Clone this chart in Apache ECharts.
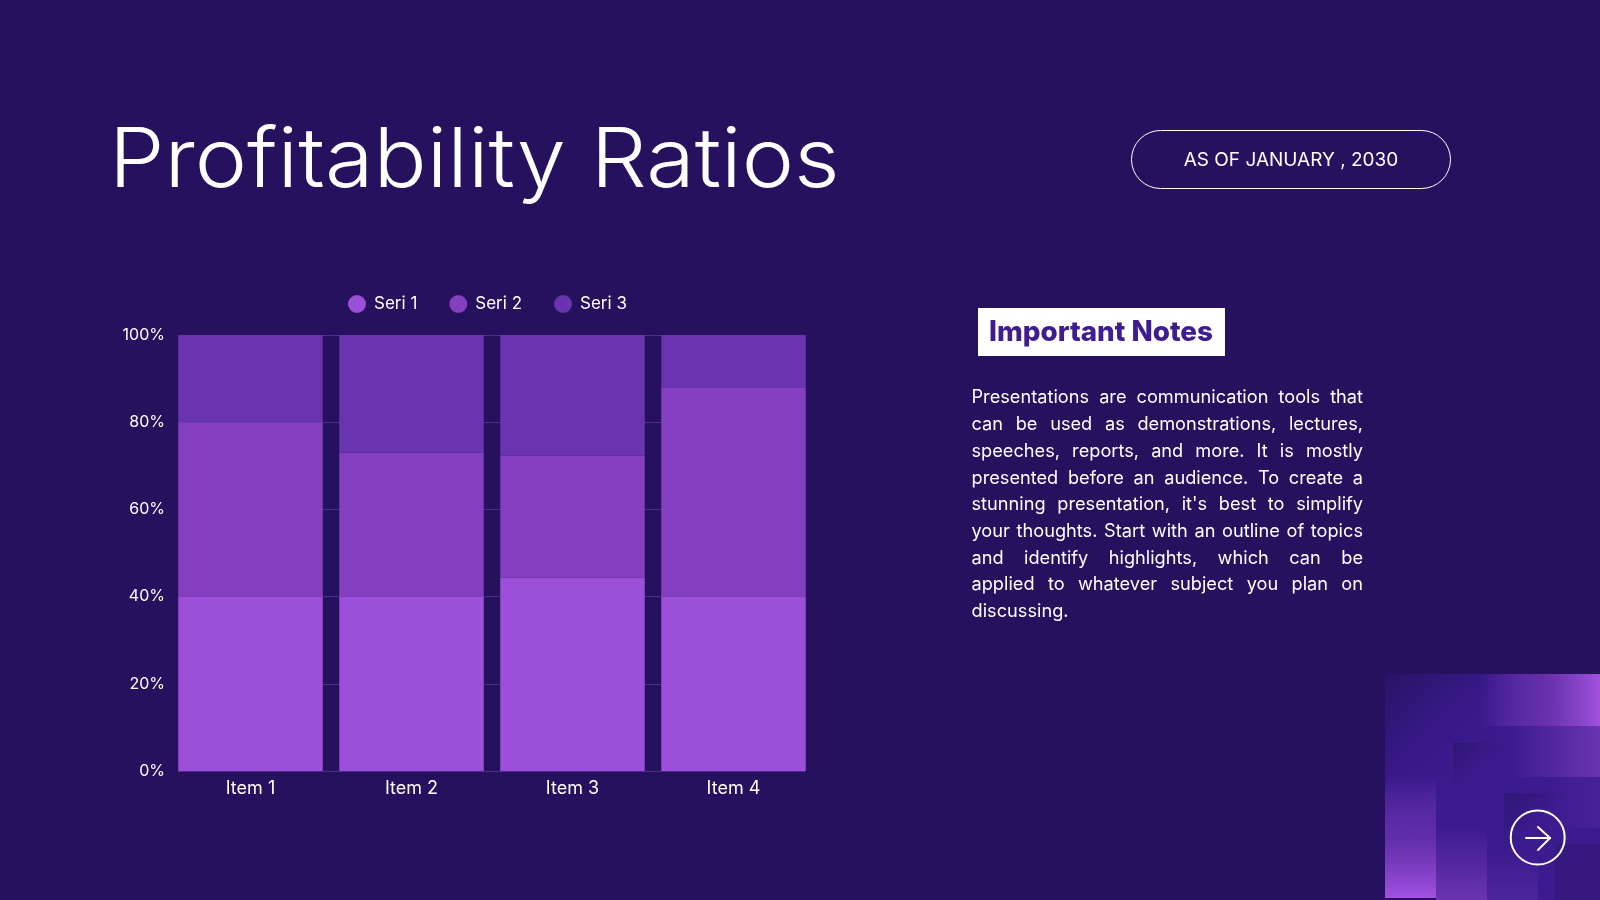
<!DOCTYPE html>
<html><head><meta charset="utf-8">
<style>html,body{margin:0;padding:0;background:#26115f}#c{width:1600px;height:900px}</style>
<script src="https://cdn.jsdelivr.net/npm/echarts@6/dist/echarts.min.js"></script>
</head><body><div id="c"></div>
<script>
const categories = ['Item 1','Item 2','Item 3','Item 4'];
const seri1 = [40,40,44.3,40];
const seri2 = [40,33,28,48];
const seri3 = [20,27,27.7,12];
const titleText = 'Profitability Ratios';
const pillText = 'AS OF JANUARY , 2030';
const notesTitle = 'Important Notes';
const notesLines = [
 'Presentations are communication tools that',
 'can be used as demonstrations, lectures,',
 'speeches, reports, and more. It is mostly',
 'presented before an audience. To create a',
 'stunning presentation, it\'s best to simplify',
 'your thoughts. Start with an outline of topics',
 'and identify highlights, which can be',
 'applied to whatever subject you plan on',
 'discussing.'
];
const F = 'Inter';
const bodyFont = '400 18.2px '+F;
const ctx = document.createElement('canvas').getContext('2d');
ctx.font = bodyFont;
const L = 971.5, R = 1363;
const g = [];
function grad(x,y,w,h,dir,stops){
  g.push({type:'rect',shape:{x,y,width:w,height:h},silent:true,style:{fill:new echarts.graphic.LinearGradient(dir[0],dir[1],dir[2],dir[3],stops.map(s=>({offset:s[0],color:s[1]})))}});
}
// base frame, fading from dark at the corner
grad(1385,674,215,224,[0,0,.75,.75],[[0,'#2a1366'],[.35,'#39198a'],[.6,'#3c1b8e'],[1,'#3c1b8e']]);
grad(1436,898,164,2,[0,0,1,0],[[0,'#3c1b8e'],[1,'#3c1b8e']]);
// darker nested squares
grad(1453,743,147,157,[0,0,.8,.8],[[0,'rgba(38,17,95,.55)'],[.22,'rgba(38,17,95,0)'],[1,'rgba(38,17,95,0)']]);
grad(1504,793,96,107,[0,0,.8,.8],[[0,'rgba(38,17,95,.5)'],[.4,'rgba(38,17,95,0)'],[1,'rgba(38,17,95,0)']]);
// bright ends of each frame's strips
grad(1385,674,215,52,[0,0,1,0],[[.45,'rgba(160,82,224,0)'],[.75,'rgba(130,62,190,.6)'],[1,'#a152e0']]);
grad(1385,726,51,172,[0,0,0,1],[[.3,'rgba(160,82,224,0)'],[.65,'rgba(120,58,190,.6)'],[1,'#a152e0']]);
grad(1436,726,164,51,[0,0,1,0],[[.45,'rgba(106,52,176,0)'],[1,'#6a34b0']]);
grad(1436,777,51,123,[0,0,0,1],[[.4,'rgba(106,52,176,0)'],[1,'#6a34b0']]);
grad(1487,777,113,51,[0,0,1,0],[[.5,'rgba(80,40,160,0)'],[1,'rgba(80,40,160,.5)']]);
grad(1487,828,51,72,[0,0,0,1],[[.3,'rgba(80,40,160,0)'],[1,'rgba(80,40,160,.7)']]);
g.push({type:'rect',shape:{x:1555,y:844,width:45,height:56},silent:true,style:{fill:'#36187f'}});
// arrow button
g.push({type:'circle',shape:{cx:1537.7,cy:837.5,r:27},silent:true,style:{fill:'none',stroke:'#fff',lineWidth:2}});
g.push({type:'polyline',shape:{points:[[1526,838],[1550,838]]},silent:true,style:{fill:'none',stroke:'#fff',lineWidth:2,lineCap:'round'}});
g.push({type:'polyline',shape:{points:[[1538,827],[1550,838],[1538,850]]},silent:true,style:{fill:'none',stroke:'#fff',lineWidth:2,lineCap:'round'}});
// title
g.push({type:'text',x:109,y:162,scaleX:1.077,silent:true,style:{text:titleText,font:'300 82px Inter',fill:'#fff',verticalAlign:'middle'}});
// pill
g.push({type:'rect',shape:{x:1131.5,y:130.5,width:319,height:58,r:29},silent:true,style:{fill:'none',stroke:'#fff',lineWidth:1}});
g.push({type:'text',x:1291,y:160,silent:true,style:{text:pillText,font:'400 19px '+F,fill:'#fff',align:'center',verticalAlign:'middle'}});
// notes box
g.push({type:'rect',shape:{x:978,y:308,width:247,height:48},silent:true,style:{fill:'#fff'}});
g.push({type:'text',x:1101,y:332.5,silent:true,style:{text:notesTitle,font:'800 27.8px '+F,fill:'#3f1c90',align:'center',verticalAlign:'middle'}});
// justified paragraph, word by word from measured widths
notesLines.forEach((line,i)=>{
  const y = 398 + i*26.7;
  const words = line.split(' ');
  const last = i===notesLines.length-1;
  const total = words.reduce((a,w)=>a+ctx.measureText(w).width,0);
  const gap = last ? ctx.measureText(' ').width : (R-L-total)/(words.length-1);
  let x = L;
  words.forEach(w=>{
    g.push({type:'text',x,y,silent:true,style:{text:w,font:bodyFont,fill:'#fff',verticalAlign:'middle'}});
    x += ctx.measureText(w).width + gap;
  });
});
const chart = echarts.init(document.getElementById('c'),null,{renderer:'canvas'});
const lineCol = '#4a2f88';
chart.setOption({
  animation:false,
  backgroundColor:'#26115f',
  color:['#9c4fd9','#843fc0','#6a34b0'],
  legend:{left:343,top:290,itemWidth:18,itemHeight:18,itemGap:32,icon:'circle',
    textStyle:{color:'#fff',fontFamily:F,fontSize:17,padding:[-6,0,0,3]},
    data:['Seri 1','Seri 2','Seri 3']},
  grid:[
    {left:178,top:335,width:627,height:436},
    {left:170,top:335,width:644,height:436}
  ],
  xAxis:[
    {gridIndex:0,type:'category',data:categories,z:3,axisLine:{show:true,lineStyle:{color:lineCol}},axisTick:{show:false},axisLabel:{show:false}},
    {gridIndex:1,type:'category',data:categories,axisLine:{show:false},axisTick:{show:false},axisLabel:{color:'#fff',fontFamily:F,fontSize:18,margin:8.5}}
  ],
  yAxis:[
    {gridIndex:0,type:'value',min:0,max:100,interval:20,axisLine:{show:false},axisTick:{show:false},
      axisLabel:{color:'#fff',fontFamily:F,fontSize:16,margin:13,padding:[5,0,0,0],formatter:'{value}%'},splitLine:{show:true,lineStyle:{color:lineCol,width:1}}},
    {gridIndex:1,type:'value',min:0,max:100,interval:20,show:false,splitLine:{show:false}}
  ],
  series:[
    {name:'Seri 1',type:'bar',stack:'a',xAxisIndex:1,yAxisIndex:1,barWidth:144.5,data:seri1},
    {name:'Seri 2',type:'bar',stack:'a',xAxisIndex:1,yAxisIndex:1,barWidth:144.5,data:seri2},
    {name:'Seri 3',type:'bar',stack:'a',xAxisIndex:1,yAxisIndex:1,barWidth:144.5,data:seri3}
  ],
  graphic:{elements:g}
});
</script></body></html>
